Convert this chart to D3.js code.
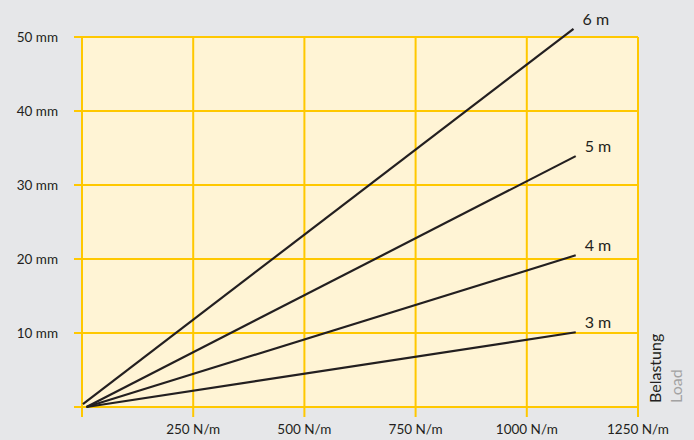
<!DOCTYPE html>
<html>
<head>
<meta charset="utf-8">
<script src="https://d3js.org/d3.v7.min.js"></script>
<style>
  body { margin: 0; background: #e6e7e9; }
  svg text { font-family: Lato, "Open Sans", sans-serif; fill: #231f20; }
</style>
</head>
<body>
<script>
  // data
  var xTicks = [250, 500, 750, 1000, 1250];
  var yTicks = [10, 20, 30, 40, 50];
  var seriesNames = ["3 m", "4 m", "5 m", "6 m"];
  var startLoad = [10, 10, 10, 2];
  var startDefl = [0, 0, 0, 0.4];
  var endLoad = [1110, 1110, 1110, 1105];
  var endDefl = [10.1, 20.5, 33.9, 51.1];

  var width = 694, height = 440;
  var margin = {top: 37, right: 56, bottom: 33, left: 82};
  var w = width - margin.left - margin.right,
      h = height - margin.top - margin.bottom;

  var svg = d3.select("body").append("svg")
    .attr("width", width)
    .attr("height", height);

  svg.append("rect")
    .attr("width", width).attr("height", height)
    .attr("fill", "#e6e7e9");

  var g = svg.append("g")
    .attr("transform", "translate(" + margin.left + "," + margin.top + ")");

  var x = d3.scaleLinear().domain([0, 1250]).range([0, w]);
  var y = d3.scaleLinear().domain([0, 50]).range([h, 0]);

  g.append("rect")
    .attr("width", w).attr("height", h)
    .attr("fill", "#fff4d5");

  var gridColor = "#ffc800";

  // horizontal grid lines (extend a bit to the left)
  g.selectAll(".hgrid")
    .data([0].concat(yTicks))
    .enter().append("line")
      .attr("x1", -8).attr("x2", w)
      .attr("y1", function(d) { return y(d); })
      .attr("y2", function(d) { return y(d); })
      .attr("stroke", gridColor)
      .attr("stroke-width", 2);

  // vertical grid lines (extend a bit below)
  g.selectAll(".vgrid")
    .data([0].concat(xTicks))
    .enter().append("line")
      .attr("x1", function(d) { return x(d); })
      .attr("x2", function(d) { return x(d); })
      .attr("y1", 0).attr("y2", h + 10)
      .attr("stroke", gridColor)
      .attr("stroke-width", 2);

  // y tick labels
  g.selectAll(".ylab")
    .data(yTicks)
    .enter().append("text")
      .attr("x", -24)
      .attr("y", function(d) { return y(d); })
      .attr("dy", "0.38em")
      .attr("text-anchor", "end")
      .attr("font-size", 13.5)
      .text(function(d) { return d + " mm"; });

  // x tick labels
  g.selectAll(".xlab")
    .data(xTicks)
    .enter().append("text")
      .attr("x", function(d) { return x(d); })
      .attr("y", h + 27)
      .attr("text-anchor", "middle")
      .attr("font-size", 13.5)
      .text(function(d) { return d + " N/m"; });

  // series lines
  var lines = seriesNames.map(function(name, i) {
    return {name: name, pts: [[startLoad[i], startDefl[i]], [endLoad[i], endDefl[i]]]};
  });

  var line = d3.line()
    .x(function(d) { return x(d[0]); })
    .y(function(d) { return y(d[1]); });

  g.selectAll(".series")
    .data(lines)
    .enter().append("path")
      .attr("d", function(d) { return line(d.pts); })
      .attr("fill", "none")
      .attr("stroke", "#231f20")
      .attr("stroke-width", 2.2);

  g.selectAll(".slab")
    .data(lines)
    .enter().append("text")
      .attr("x", function(d) { return x(d.pts[1][0]) + 9; })
      .attr("y", function(d) { return y(d.pts[1][1]) - 4; })
      .attr("font-size", 16)
      .text(function(d) { return d.name; });

  // rotated axis title
  svg.append("text")
    .attr("transform", "translate(661,403) rotate(-90)")
    .attr("font-size", 16)
    .text("Belastung");
  svg.append("text")
    .attr("transform", "translate(682,403) rotate(-90)")
    .attr("font-size", 16)
    .style("fill", "#a3a3a3")
    .text("Load");
</script>
</body>
</html>
